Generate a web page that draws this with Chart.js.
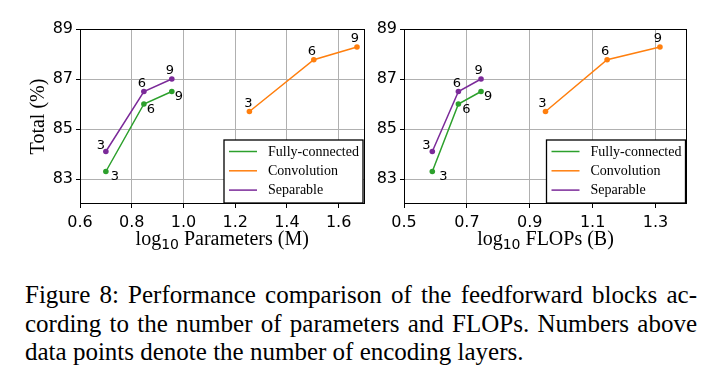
<!DOCTYPE html>
<html>
<head>
<meta charset="utf-8">
<script src="https://cdn.jsdelivr.net/npm/chart.js@4/dist/chart.umd.min.js"></script>
<style>
  html, body { margin: 0; padding: 0; background: #fff; }
  body { width: 707px; height: 378px; position: relative; overflow: hidden; }
  #c1wrap { position: absolute; left: 0; top: 0; width: 370px; height: 258px; }
  #c2wrap { position: absolute; left: 370px; top: 0; width: 337px; height: 258px; }
  #caption { position: absolute; left: 25px; top: 281px; width: 672px;
    font-family: "Liberation Serif", "Times New Roman", serif; font-size: 25px; line-height: 28.5px; color: #000; }
  #caption .j { text-align: justify; text-align-last: justify; white-space: nowrap; }
  #caption .l { text-align: left; white-space: nowrap; }
</style>
</head>
<body>
<div id="c1wrap"><canvas id="c1"></canvas></div>
<div id="c2wrap"><canvas id="c2"></canvas></div>
<div id="caption">
  <div class="j">Figure 8: Performance comparison of the feedforward blocks ac-</div>
  <div class="j">cording to the number of parameters and FLOPs. Numbers above</div>
  <div class="l">data points denote the number of encoding layers.</div>
</div>
<script>
// ---- data ----
const seriesNames = ['Fully-connected', 'Convolution', 'Separable'];
const layers = [3, 6, 9];
const paramsFC   = [0.700, 0.847, 0.955];
const paramsConv = [1.255, 1.504, 1.671];
const paramsSep  = [0.700, 0.847, 0.955];
const flopsFC    = [0.590, 0.673, 0.745];
const flopsConv  = [0.950, 1.146, 1.314];
const flopsSep   = [0.590, 0.673, 0.745];
const totalFC    = [83.3, 86.0, 86.5];
const totalConv  = [85.7, 87.77, 88.28];
const totalSep   = [84.1, 86.5, 87.0];
const yTicks = [83, 85, 87, 89];
const xTicksParams = [0.6, 0.8, 1.0, 1.2, 1.4, 1.6];
const xTicksFlops  = [0.5, 0.7, 0.9, 1.1, 1.3];

// ---- styles ----
const colors = ['#2ca02c', '#ff7f0e', '#7b2a99'];

function pts(xs, ys) { return xs.map((x, i) => ({ x: x, y: ys[i] })); }

const framePlugin = {
  id: 'frame',
  afterDatasetsDraw(chart, args, opts) {
    const c = chart.ctx, a = chart.chartArea;
    c.save();
    // frame
    c.strokeStyle = '#000'; c.lineWidth = 1;
    c.strokeRect(Math.round(a.left) + 0.5, Math.round(a.top) + 0.5,
                 Math.round(a.right - a.left) - 1, Math.round(a.bottom - a.top) - 1);
    // point annotations
    c.fillStyle = '#000';
    c.font = '13px "DejaVu Sans"';
    c.textAlign = 'center'; c.textBaseline = 'middle';
    chart.data.datasets.forEach((ds, di) => {
      const meta = chart.getDatasetMeta(di);
      meta.data.forEach((el, i) => {
        const off = opts.offsets[di][i];
        c.fillText(String(layers[i]), el.x + off[0], el.y + off[1]);
      });
    });
    // legend
    const lw = 139, lh = 63;
    const lx = a.right - 1.5 - lw, ly = a.bottom - 1 - lh;
    c.fillStyle = '#fff';
    c.fillRect(lx, ly, lw, lh);
    c.strokeStyle = '#000'; c.lineWidth = 1.3;
    c.strokeRect(lx, ly, lw, lh);
    c.font = '14px "Liberation Serif"';
    c.textAlign = 'left'; c.textBaseline = 'middle';
    chart.data.datasets.forEach((ds, di) => {
      const yy = ly + 11.5 + di * 19.3;
      c.strokeStyle = ds.borderColor; c.lineWidth = 1.5;
      c.beginPath(); c.moveTo(lx + 5, yy); c.lineTo(lx + 33, yy); c.stroke();
      c.fillStyle = '#000';
      c.fillText(ds.label, lx + 44, yy + 0.5);
    });
    // x title with subscript
    const p = opts.xTitle;
    c.textBaseline = 'alphabetic';
    const mainFont = '20px "Liberation Serif"', subFont = '14px "DejaVu Sans"';
    c.font = mainFont; const w1 = c.measureText(p[0]).width, w3 = c.measureText(p[2]).width;
    c.font = subFont; const w2 = c.measureText(p[1]).width;
    let x0 = (a.left + a.right) / 2 - (w1 + w2 + w3) / 2;
    const by = 245;
    c.fillStyle = '#000';
    c.font = mainFont; c.fillText(p[0], x0, by);
    c.font = subFont; c.fillText(p[1], x0 + w1, by + 4);
    c.font = mainFont; c.fillText(p[2], x0 + w1 + w2, by);
    // y title
    if (opts.yTitle) {
      c.translate(44, (a.top + a.bottom) / 2);
      c.rotate(-Math.PI / 2);
      c.textAlign = 'center';
      c.font = mainFont;
      c.fillText(opts.yTitle, 0, 0);
    }
    c.restore();
  }
};

function makeChart(id, xs, xTicks, xMin, xMax, xTitle, yTitle, yWidth, padRight, offsets) {
  const ys = [totalFC, totalConv, totalSep];
  return new Chart(document.getElementById(id), {
    type: 'scatter',
    data: {
      datasets: seriesNames.map((n, i) => ({
        label: n,
        data: pts(xs[i], ys[i]),
        showLine: true,
        borderColor: colors[i],
        backgroundColor: colors[i],
        borderWidth: 1.5,
        pointRadius: 2.8,
        pointBorderWidth: 0,
        pointHoverRadius: 2.8
      }))
    },
    options: {
      responsive: true,
      maintainAspectRatio: false,
      animation: false,
      events: [],
      layout: { padding: { top: 29, right: padRight, left: 0, bottom: 0 } },
      plugins: {
        legend: { display: false },
        tooltip: { enabled: false },
        frame: { xTitle: xTitle, yTitle: yTitle, offsets: offsets }
      },
      scales: {
        x: {
          type: 'linear', min: xMin, max: xMax,
          afterBuildTicks: s => { s.ticks = xTicks.map(v => ({ value: v })); },
          afterFit: s => { s.height = 54; },
          grid: { color: '#b0b0b0', lineWidth: 1, drawTicks: true, tickLength: 4, tickColor: '#000', tickWidth: 1 },
          border: { display: false },
          ticks: { color: '#000', font: { family: 'DejaVu Sans', size: 16 }, padding: 5, maxRotation: 0,
                   callback: v => Number(v).toFixed(1) }
        },
        y: {
          type: 'linear', min: 82, max: 89,
          afterBuildTicks: s => { s.ticks = yTicks.map(v => ({ value: v })); },
          afterFit: s => { s.width = yWidth; },
          grid: { color: '#b0b0b0', lineWidth: 1, drawTicks: true, tickLength: 4, tickColor: '#000', tickWidth: 1 },
          border: { display: false },
          ticks: { color: '#000', font: { family: 'DejaVu Sans', size: 16 }, padding: 3,
                   callback: v => String(v) }
        }
      }
    },
    plugins: [framePlugin]
  });
}

makeChart('c1', [paramsFC, paramsConv, paramsSep], xTicksParams, 0.6, 1.7,
  ['log', '10', ' Parameters (M)'], 'Total (%)', 80, 5.5,
  [[[9, 5], [7, 6], [7, 5]], [[-1, -7.5], [-2, -8], [-2, -8]], [[-5, -6], [-2, -7.5], [-2, -8]]]);
makeChart('c2', [flopsFC, flopsConv, flopsSep], xTicksFlops, 0.5, 1.4,
  ['log', '10', ' FLOPs (B)'], null, 34, 20,
  [[[11, 5.5], [8, 6], [7, 5]], [[-3, -7.5], [-2, -8], [-2, -8]], [[-6, -5.5], [-1.5, -7.5], [-2.4, -8]]]);
</script>
</body>
</html>
